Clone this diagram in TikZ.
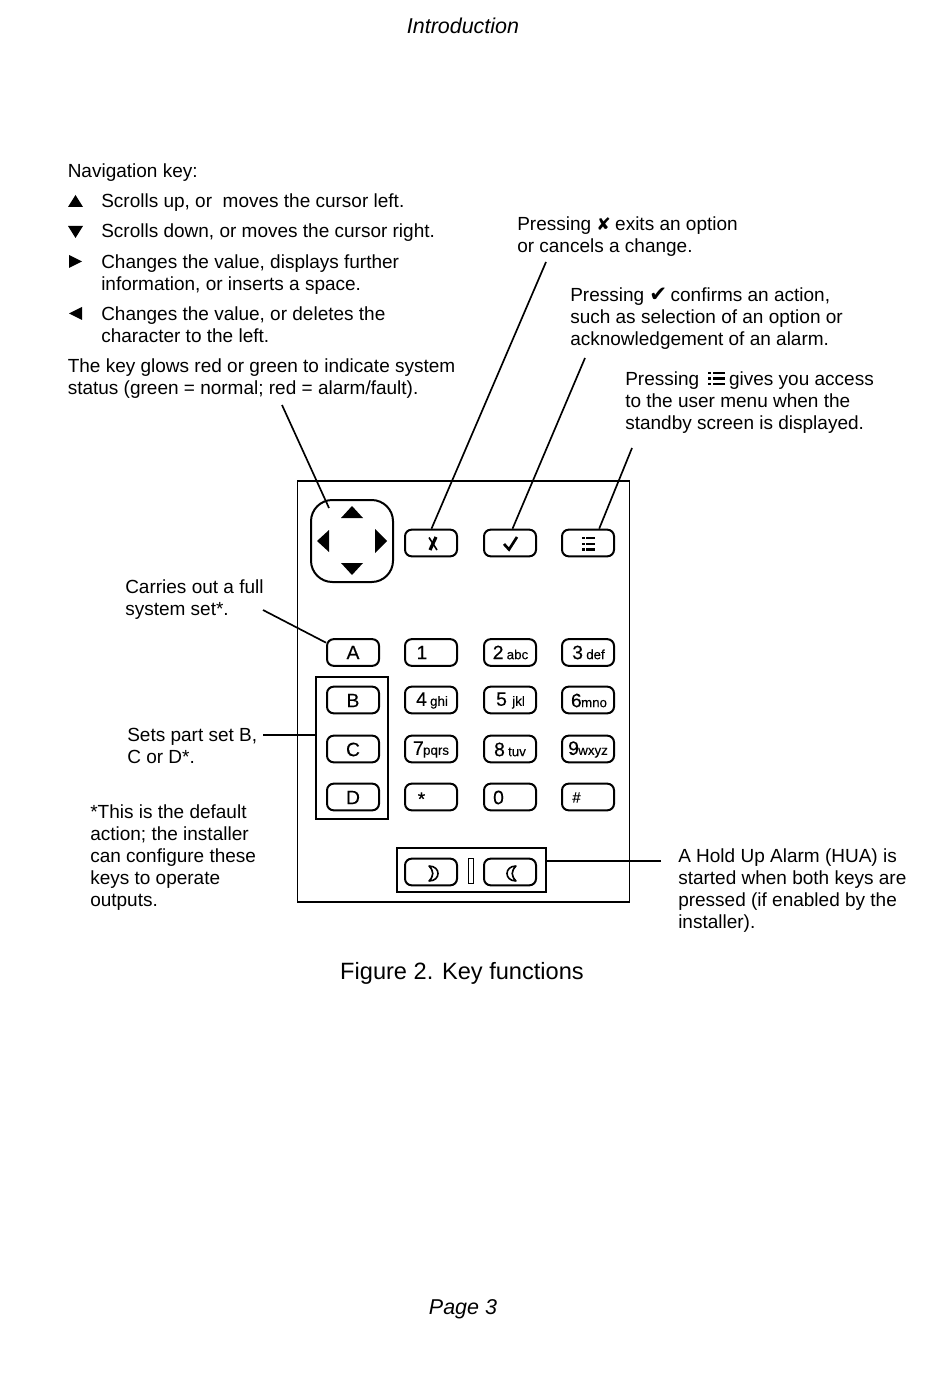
\documentclass[tikz,border=0pt]{standalone}
\usepackage{fontspec}
\setmainfont{Liberation Sans}
\newfontfamily\symfont{DejaVu Sans}
\newfontfamily\keyfont[FakeBold=0.2]{Liberation Sans}
\usetikzlibrary{calc}
\tikzset{
  x=0.75pt,y=-0.75pt,
  body/.style={anchor=north west,inner sep=0pt,align=left,yshift=-2.6pt,font=\fontsize{14.25}{16.5}\selectfont},
  keybox/.style={draw,line width=1.5pt,rounded corners=5pt,minimum width=39pt,minimum height=20pt,inner sep=0pt},
  keytxt/.style={inner sep=0pt,font=\keyfont\fontsize{14.5}{16}\selectfont},
  leader/.style={line width=1.25pt},
  frame/.style={draw,line width=1.25pt,inner sep=0pt},
  glyph/.style={fill=black,draw=none}
}
\newcommand{\smalltxt}[1]{{\fontsize{10}{11}\selectfont #1}}
\begin{document}
\begin{tikzpicture}
\useasboundingbox (0,0) rectangle (950,1383);
\node[inner sep=0pt,font=\fontsize{16.1}{18}\selectfont\itshape] (head) at (463,26) {Introduction};
\node[inner sep=0pt,font=\fontsize{16.1}{18}\selectfont\itshape] (foot) at (463,1309) {Page 3};
\node[inner sep=0pt,font=\fontsize{17.7}{20}\selectfont] (cap) at (462,973) {Figure 2. Key functions};
% left text
\node[body] (nav) at (67.5,160) {Navigation key:};
\node[body] (t1) at (101,190) {Scrolls up, or\ \ moves the cursor left.};
\node[body] (t2) at (101,220) {Scrolls down, or moves the cursor right.};
\node[body] (t3) at (101,251) {Changes the value, displays further\\information, or inserts a space.};
\node[body] (t4) at (101,303) {Changes the value, or deletes the\\character to the left.};
\node[body] (t5) at (67.5,354.5) {The key glows red or green to indicate system\\status (green = normal; red = alarm/fault).};
\fill[glyph] (68,207)--(83,207)--(75.5,195)--cycle;
\fill[glyph] (68,226)--(83,226)--(75.5,238)--cycle;
\fill[glyph] (69,255)--(69,268)--(82,261.5)--cycle;
\fill[glyph] (82,307)--(82,320)--(69,313.5)--cycle;
% right text
\node[body] (px) at (517,213.5) {Pressing {\symfont\fontsize{13}{16}\selectfont\char"2718}\hspace{-.8pt} exits an option\\or cancels a change.};
\node[body] (pc) at (570,284) {Pressing {\symfont\fontsize{16}{16}\selectfont\char"2714}\hspace{-1.5pt} confirms an action,\\such as selection of an option or\\acknowledgement of an alarm.};
\node[body] (pm) at (625,368) {Pressing \hspace{18.5pt}gives you access\\to the user menu when the\\standby screen is displayed.};
\foreach \yy in {373,378.5,384}{\fill[glyph] (708,\yy-1.4) rectangle (711,\yy+1.4); \fill[glyph] (713,\yy-1.4) rectangle (725,\yy+1.4);}
\node[body] (ca) at (125,576) {Carries out a full\\system set*.};
\node[body] (sb) at (127,724) {Sets part set B,\\C or D*.};
\node[body] (df) at (90,800.5) {*This is the default\\action; the installer\\can configure these\\keys to operate\\outputs.};
\node[body] (hu) at (678,845) {A Hold Up Alarm (HUA) is\\started when both keys are\\pressed (if enabled by the\\installer).};
% keypad
\node[frame,minimum width=249pt,minimum height=315.75pt] (pad) at (463.5,691.5) {};
\node[draw,line width=1.5pt,rounded corners=16pt,minimum width=61.5pt,minimum height=61.5pt,inner sep=0pt] (navkey) at (352,541) {};
\fill[glyph] (341,518)--(363,518)--(352,506)--cycle;
\fill[glyph] (341,563)--(363,563)--(352,575)--cycle;
\fill[glyph] (329,530)--(329,552)--(317,541)--cycle;
\fill[glyph] (375,529)--(375,553)--(387,541)--cycle;
\node[keybox] (kx) at (431,543) {};
\node[keybox] (kc) at (510,543) {};
\node[keybox] (km) at (588,543) {};
\draw[line width=2.4pt] (430,550) -- (436,537);
\draw[line width=1.2pt] (429,537.5) -- (437,550);
\draw[line width=2pt] (504,544) -- (509,549.5) -- (517,537);
\foreach \yy in {538,544,549.5}{\fill[glyph] (582,\yy-1.1) rectangle (584.5,\yy+1.1); \fill[glyph] (586,\yy-1.1) rectangle (595,\yy+1.1);}
\node[keybox] (ka) at (353,652.5) {}; \node[keytxt] (kat) at (353,652.5) {A};
\node[keybox] (kb) at (353,700) {}; \node[keytxt] (kbt) at (353,700.5) {B};
\node[keybox] (kcc) at (353,749) {}; \node[keytxt] (kcct) at (353,749.5) {C};
\node[keybox] (kd) at (353,797) {}; \node[keytxt] (kdt) at (353,797.5) {D};
\node[keybox] (k1) at (431,652.5) {}; \node[keytxt] (k1t) at (422,652.5) {1};
\node[keybox] (k2) at (510,652.5) {}; \node[keytxt] (k2t) at (510.5,652.5) {2\,\smalltxt{abc}};
\node[keybox] (k3) at (588,652.5) {}; \node[keytxt] (k3t) at (588.5,652.5) {3\,\smalltxt{def}};
\node[keybox] (k4) at (431,700) {}; \node[keytxt] (k4t) at (432,700.5) {4\,\smalltxt{ghi}};
\node[keybox] (k5) at (510,700) {}; \node[keytxt] (k5t) at (510.5,700.5) {5\ \smalltxt{jkl}};
\node[keybox] (k6) at (588,700) {}; \node[keytxt] (k6t) at (589,700.5) {6\hspace{-.5pt}\smalltxt{mno}};
\node[keybox] (k7) at (431,749) {}; \node[keytxt] (k7t) at (431,749.5) {7\hspace{-.5pt}\smalltxt{pqrs}};
\node[keybox] (k8) at (510,749) {}; \node[keytxt] (k8t) at (510,749.5) {8\,\smalltxt{tuv}};
\node[keybox] (k9) at (588,749) {}; \node[keytxt] (k9t) at (588,749.5) {9\hspace{-.5pt}\smalltxt{wxyz}};
\node[keybox] (ks) at (431,797) {}; \node[keytxt] (kst) at (421.5,799) {*};
\node[keybox] (k0) at (510,797) {}; \node[keytxt] (k0t) at (498.5,797.5) {0};
\node[keybox] (kh) at (588,797) {}; \node[keytxt,font=\keyfont\fontsize{11}{13}\selectfont] (kht) at (576.5,797.5) {\#};
\node[frame,minimum width=54pt,minimum height=106.5pt] (bcd) at (352,748) {};
\node[frame,minimum width=111.75pt,minimum height=33pt] (hua) at (471.5,870) {};
\node[keybox] (m1) at (431,872) {};
\node[keybox] (m2) at (510,872) {};
\node[draw,line width=1.1pt,minimum width=4pt,minimum height=18.5pt,inner sep=0pt] (bar) at (471,871) {};
\draw[line width=1.2pt,line join=round] (429,866) .. controls (441,866) and (441,881) .. (429,881) .. controls (434,876) and (434,871) .. (429,866) -- cycle;
\draw[line width=1.2pt,line join=round] (516,866) .. controls (504,866) and (504,881) .. (516,881) .. controls (511,876) and (511,871) .. (516,866) -- cycle;
% connectors
\coordinate (navend) at (329,508);
\coordinate (s0) at (282,405);
\coordinate (s1) at (546,262);
\coordinate (s2) at (585,358);
\coordinate (s3) at (632,448);
\coordinate (s4) at (263,610);
\coordinate (s5) at (263,735);
\coordinate (s6) at (661,861);
\draw[leader] (s0) -- (navend);
\draw[leader] (s1) -- (kx.88);
\draw[leader] (s2) -- (kc.80);
\draw[leader] (s3) -- (km.52);
\draw[leader] (s4) -- (ka.160);
\draw[leader] (s5) -- (s5 -| bcd.west);
\draw[leader] (s6) -- (s6 -| hua.east);
\end{tikzpicture}
\end{document}
